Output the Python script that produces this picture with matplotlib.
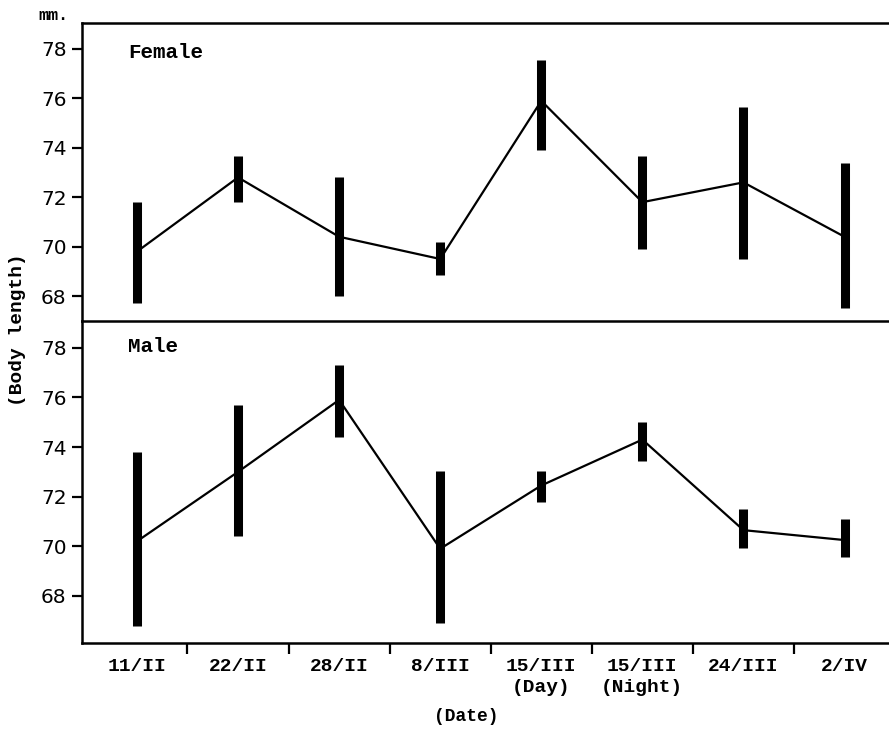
import matplotlib.pyplot as plt
import numpy as np

# dates sampled
dates = ['11/II', '22/II', '28/II', '8/III', '15/III\n(Day)', '15/III\n(Night)', '24/III', '2/IV']

# body length (mm), mean with range bars
female_mean = [69.8, 72.8, 70.4, 69.5, 75.9, 71.8, 72.6, 70.4]
female_low = [67.7, 71.8, 68.0, 68.85, 73.9, 69.9, 69.5, 67.5]
female_high = [71.8, 73.65, 72.8, 70.2, 77.55, 73.65, 75.65, 73.4]

male_mean = [70.2, 73.0, 75.9, 69.9, 72.45, 74.3, 70.65, 70.25]
male_low = [66.8, 70.4, 74.4, 66.9, 71.8, 73.45, 69.95, 69.55]
male_high = [73.8, 75.7, 77.3, 73.05, 73.05, 75.0, 71.5, 71.1]

yticks = [68, 70, 72, 74, 76, 78]

mono = 'Liberation Mono'
x = np.arange(len(dates))

fig = plt.figure(figsize=(8.89, 7.49), dpi=100)
ax1 = fig.add_axes([0.0922, 0.5714, 0.9078, 0.3979])
ax2 = fig.add_axes([0.0922, 0.1415, 0.9078, 0.4299])

panels = [
    (ax1, female_mean, female_low, female_high, 'Female', (66.99, 79.05), 0.90),
    (ax2, male_mean, male_low, male_high, 'Male', (66.1, 79.08), 0.92),
]

for ax, mean, low, high, name, ylim, ty in panels:
    ax.vlines(x, low, high, color='black', linewidth=6.5, capstyle='butt')
    ax.plot(x, mean, color='black', linewidth=1.6)
    ax.set_xlim(-0.544, 7.44)
    ax.set_ylim(*ylim)
    ax.set_yticks(yticks)
    ax.tick_params(axis='y', direction='out', length=7, width=1.6, pad=4, labelsize=14.5)
    ax.spines['right'].set_visible(False)
    for s in ['left', 'top', 'bottom']:
        ax.spines[s].set_linewidth(1.8)
    ax.text(0.057, ty, name, transform=ax.transAxes, fontsize=15,
            family=mono, fontweight='bold', va='center', ha='left')

ax1.spines['bottom'].set_visible(False)
ax1.set_xticks([])

ax2.set_xticks(x)
ax2.set_xticklabels(dates, family=mono, fontweight='bold', fontsize=14, linespacing=1.3)
ax2.set_xticks(x[:-1] + 0.5, minor=True)
ax2.tick_params(axis='x', which='major', length=0, pad=11)
ax2.tick_params(axis='x', which='minor', direction='out', length=8, width=1.6)

fig.text(0.043, 0.979, 'mm.', family=mono, fontweight='bold', fontsize=12,
         ha='left', va='center')
fig.text(0.02, 0.56, '(Body length)', family=mono, fontweight='bold', fontsize=14,
         rotation=90, ha='center', va='center')
fig.text(0.525, 0.043, '(Date)', family=mono, fontweight='bold', fontsize=13,
         ha='center', va='center')

fig.savefig('out.png', dpi=100)
